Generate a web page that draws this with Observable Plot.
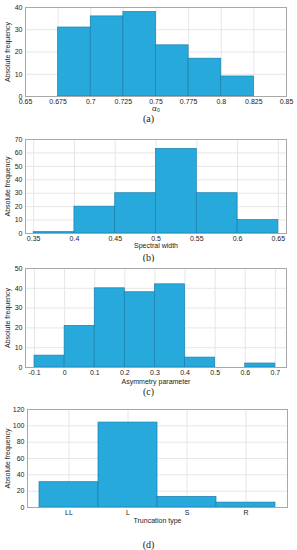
<!DOCTYPE html>
<html><head><meta charset="utf-8">
<script src="https://cdn.jsdelivr.net/npm/d3@7"></script>
<script src="https://cdn.jsdelivr.net/npm/@observablehq/plot@0.6"></script>
<style>
body{margin:0;background:#fff;width:297px;height:550px;position:relative;overflow:hidden;font-family:"Liberation Sans",Arial,sans-serif}
.panel{position:absolute;left:0}
.cap{position:absolute;left:0;width:297px;text-align:center;font-family:"Liberation Serif","DejaVu Serif",serif;font-size:10px;line-height:12px;color:#222}
</style></head><body>
<script>
// (a) alpha_0
const alphaEdges = [0.675, 0.7, 0.725, 0.75, 0.775, 0.8, 0.825];
const alphaCounts = [31, 36, 38, 23, 17, 9];
const alphaTicks = [0.65, 0.675, 0.7, 0.725, 0.75, 0.775, 0.8, 0.825, 0.85];
const alphaYTicks = [0, 10, 20, 30, 40];

// (b) spectral width
const widthEdges = [0.35, 0.4, 0.45, 0.5, 0.55, 0.6, 0.65];
const widthCounts = [1, 20, 30, 63, 30, 10];
const widthTicks = [0.35, 0.4, 0.45, 0.5, 0.55, 0.6, 0.65];
const widthYTicks = [0, 10, 20, 30, 40, 50, 60, 70];

// (c) asymmetry parameter
const asymEdges = [-0.1, 0, 0.1, 0.2, 0.3, 0.4, 0.5, 0.6, 0.7];
const asymCounts = [6, 21, 40, 38, 42, 5, 0, 2];
const asymTicks = [-0.1, 0, 0.1, 0.2, 0.3, 0.4, 0.5, 0.6, 0.7];
const asymYTicks = [0, 10, 20, 30, 40, 50];

// (d) truncation type
const truncTypes = ["LL", "L", "S", "R"];
const truncCounts = [31, 104, 13, 6];
const truncYTicks = [0, 20, 40, 60, 80, 100, 120];

const FILL = "#27a9dc", STROKE = "#1a7fae", GRID = "#e6e6e6", FRAME = "#a8a8a8";
const fmt = d => String(+d.toFixed(3));
const FONT = "'Liberation Sans', Arial, sans-serif";

function place(node, top) {
  node.classList.add("panel");
  node.style.top = top + "px";
  document.body.appendChild(node);
}
function caption(text, top) {
  const d = document.createElement("div");
  d.className = "cap"; d.textContent = text; d.style.top = top + "px";
  document.body.appendChild(d);
}

function hist(cfg) {
  const table = cfg.counts.map((c, i) => ({x1: cfg.edges[i], x2: cfg.edges[i + 1], count: c}));
  const extra = cfg.bigLabel ? [Plot.text([cfg.bigLabel], {frameAnchor: "bottom", dy: 14.5, fontSize: 8, fill: "#222"})] : [];
  return Plot.plot({
    width: 297, height: cfg.height,
    marginTop: cfg.mt, marginBottom: cfg.mb, marginLeft: cfg.ml ?? 25, marginRight: cfg.mr ?? 11,
    style: {fontSize: "7px", fontFamily: FONT, color: "#222", background: "white"},
    x: {domain: cfg.xDomain},
    y: {domain: cfg.yDomain},
    marks: [
      Plot.gridX(cfg.xTicks, {stroke: GRID, strokeOpacity: 1}),
      Plot.gridY(cfg.yTicks, {stroke: GRID, strokeOpacity: 1}),
      Plot.rectY(table.filter(d => d.count > 0), {x1: "x1", x2: "x2", y: "count", fill: FILL, stroke: STROKE, strokeWidth: 0.7}),
      Plot.frame({stroke: FRAME}),
      Plot.axisX(cfg.xTicks, {tickFormat: fmt, tickSize: 0, tickPadding: 3, label: cfg.xLabel, labelAnchor: "center", labelArrow: "none", labelOffset: cfg.xlo ?? 14, fontSize: 7}),
      Plot.axisY(cfg.yTicks, {tickSize: 0, tickPadding: 3, label: "Absolute frequency", labelAnchor: "center", labelArrow: "none", labelOffset: 20, fontSize: 7}),
      ...extra
    ]
  });
}

place(hist({edges: alphaEdges, counts: alphaCounts, xDomain: [0.65, 0.85], yDomain: [0, 40],
  xTicks: alphaTicks, yTicks: alphaYTicks, xLabel: null, bigLabel: "α₀", height: 116, mt: 7, mb: 20}), 0);
caption("(a)", 113);

place(hist({edges: widthEdges, counts: widthCounts, xDomain: [0.34, 0.66], yDomain: [0, 70],
  xTicks: widthTicks, yTicks: widthYTicks, xLabel: "Spectral width", height: 124, mt: 9, mb: 21}), 130);
caption("(b)", 252);

place(hist({edges: asymEdges, counts: asymCounts, xDomain: [-0.13, 0.737], yDomain: [0, 50],
  xTicks: asymTicks, yTicks: asymYTicks, xLabel: "Asymmetry parameter", height: 124, mt: 6, mb: 19, xlo: 16}), 262);
caption("(c)", 386);

const truncTable = truncTypes.map((t, i) => ({type: t, count: truncCounts[i]}));
place(Plot.plot({
  width: 297, height: 124, marginTop: 7, marginBottom: 19, marginLeft: 27, marginRight: 10,
  style: {fontSize: "7px", fontFamily: FONT, color: "#222", background: "white"},
  x: {type: "band", domain: truncTypes, paddingInner: 0, paddingOuter: 0.185},
  y: {domain: [0, 120]},
  marks: [
    Plot.gridX(truncTypes, {stroke: GRID, strokeOpacity: 1}),
    Plot.gridY(truncYTicks, {stroke: GRID, strokeOpacity: 1}),
    Plot.barY(truncTable, {x: "type", y: "count", fill: FILL, stroke: STROKE, strokeWidth: 0.7, inset: 0}),
    Plot.frame({stroke: FRAME}),
    Plot.axisX({tickSize: 0, tickPadding: 3, label: "Truncation type", labelAnchor: "center", labelArrow: "none", labelOffset: 15, fontSize: 7}),
    Plot.axisY(truncYTicks, {tickSize: 0, tickPadding: 3, label: "Absolute frequency", labelAnchor: "center", labelArrow: "none", labelOffset: 22, fontSize: 7})
  ]
}), 402);
caption("(d)", 539);
</script>
</body></html>
